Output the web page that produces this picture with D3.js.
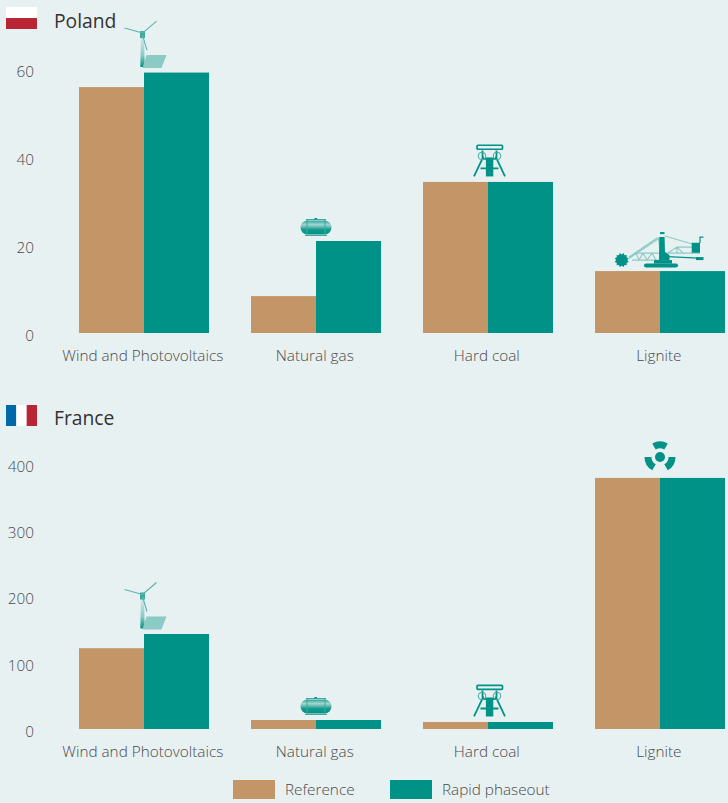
<!DOCTYPE html>
<html><head><meta charset="utf-8">
<script src="https://cdn.jsdelivr.net/npm/d3@7"></script>
<style>
html,body{margin:0;padding:0;background:#e8f1f2;overflow:hidden}
svg{display:block}
text{font-family:"Open Sans",sans-serif;}
.axis text{font-size:15.3px;fill:#4a4a4a;font-weight:300}
.title{font-size:19.3px;fill:#333}
.legend{font-size:15.3px;fill:#4a4a4a;font-weight:300}
</style></head><body>
<svg id="c" width="728" height="803"></svg>
<script>
const categories = ["Wind and Photovoltaics","Natural gas","Hard coal","Lignite"];
const seriesNames = ["Reference","Rapid phaseout"];
const polandReference = [56,8.4,34.4,14.1];
const polandRapid = [59.3,20.95,34.4,14.1];
const franceReference = [122,13.6,10.6,379];
const franceRapid = [143.4,13.6,10.6,379];
const polandTicks = [0,20,40,60];
const franceTicks = [0,100,200,300,400];
const polandIcons = ["turbine","tank","headframe","excavator"];
const franceIcons = ["turbine","tank","headframe","radiation"];

const TEAL="#009286", TAN="#c49566", LIGHT="#8ccac5";
const svg=d3.select("#c");
const defs=svg.append("defs");
const grad=(id,stops)=>{const g=defs.append("linearGradient").attr("id",id).attr("x1",0).attr("x2",0).attr("y1",0).attr("y2",1);
  stops.forEach(([o,c])=>g.append("stop").attr("offset",o).attr("stop-color",c));};
grad("tankG",[[0,"#2fa59b"],[.3,"#a5d6d1"],[.65,"#159a8e"],[1,"#009286"]]);
grad("towerG",[[0,"#d5e9e8"],[.6,"#8ccac5"],[1,"#009286"]]);

const x=d3.scaleBand().domain(categories).range([79,725]).paddingInner(42/172).paddingOuter(0);
const sub=d3.scaleBand().domain(seriesNames).range([0,x.bandwidth()]);
const color=d3.scaleOrdinal().domain(seriesNames).range([TAN,TEAL]);

const iconDraw={
 turbine(g){
  g.append("path").attr("d","M-2.6,-31 L0.6,-31 L1.2,-1 L-3.2,-1 Z").attr("fill","url(#towerG)");
  g.append("rect").attr("x",-3.5).attr("y",-37).attr("width",5).attr("height",7).attr("fill","#3fa9a0");
  g.append("path").attr("d","M-1,-35 L13,-47 M-1,-35 L-19,-40 M-1,-33 L3.5,-18").attr("stroke","#58b5ad").attr("stroke-width",1.1).attr("fill","none");
  g.append("path").attr("d","M3,-13 L23,-13 L18,0 L-1,0 Z").attr("fill",LIGHT);
 },
 tank(g){
  g.append("rect").attr("x",-15.5).attr("y",-15.5).attr("width",31).attr("height",14).attr("rx",7).attr("fill","url(#tankG)");
  g.append("path").attr("d","M-9,-17 V-0.5 M9,-17 V-0.5 M-11,-0.5 H11 M-10,-16.5 H10").attr("stroke","#3fa9a0").attr("stroke-width",1).attr("fill","none");
  g.append("rect").attr("x",-1.5).attr("y",-18).attr("width",2.5).attr("height",1.5).attr("fill",TEAL);
 },
 headframe(g){
  g.append("rect").attr("x",-12.5).attr("y",-31.2).attr("width",25.5).attr("height",4).attr("rx",1).attr("fill","none").attr("stroke",TEAL).attr("stroke-width",1.7);
  g.append("rect").attr("x",-3.6).attr("y",-19).attr("width",7.4).attr("height",19).attr("fill",TEAL);
  g.append("path").attr("d","M-6,-20 L-15.5,0 M6,-20 L15.5,0 M-9,-8 H9 M-7,-26 V-19 M7,-26 V-19 M-7,-17.5 H7").attr("stroke",TEAL).attr("stroke-width",1.8).attr("fill","none");
  [-7.5,7.5].forEach(d=>g.append("circle").attr("cx",d).attr("cy",-20.5).attr("r",3.8).attr("fill","none").attr("stroke","#3fa9a0").attr("stroke-width",1));
 },
 excavator(g){
  const star=d3.range(24).map(i=>{const r=i%2?7.2:5.6,a=i*Math.PI/12;return [-38.3+r*Math.cos(a),-11+r*Math.sin(a)];});
  g.append("path").attr("d",d3.line()(star)+"Z").attr("fill",TEAL);
  g.append("path").attr("d","M-32,-12 L-2,-32 M-31,-14 L-3,-33 M-28,-11 H0 M-24,-18 H0 M-24,-18 L-21,-11 L-17,-18 L-13,-11 L-8,-18 L-4,-11 M5,-35 L32,-27 M8,-18 L17,-24 H32 M17,-24 L23,-18 M17,-24 V-18 M2,-18 H40 M-2,-34 L1,-18").attr("stroke",LIGHT).attr("stroke-width",1.1).attr("fill","none");
  g.append("rect").attr("x",-16).attr("y",-7.7).attr("width",34).attr("height",4).attr("rx",2).attr("fill",TEAL);
  g.append("rect").attr("x",-6).attr("y",-11).attr("width",18).attr("height",3.5).attr("fill",TEAL);
  g.append("path").attr("d","M-0.7,-34 H4.6 L5,-19 L9.5,-16 V-11 H-1 Z").attr("fill",TEAL);
  g.append("rect").attr("x",0).attr("y",-39).attr("width",4.5).attr("height",2).attr("fill",TEAL);
  g.append("rect").attr("x",31.7).attr("y",-28.3).attr("width",8.3).attr("height",10).attr("fill",TEAL);
  g.append("path").attr("d","M40,-28 V-34 H43.5").attr("stroke",TEAL).attr("stroke-width",1.2).attr("fill","none");
  g.append("rect").attr("x",36).attr("y",-14).attr("width",7.5).attr("height",3).attr("fill",TEAL);
  g.append("path").attr("d","M8,-14.5 L38,-13").attr("stroke",TEAL).attr("stroke-width",1.3);
 },
 radiation(g){
  const arc=d3.arc().innerRadius(8.6).outerRadius(15.5);
  [0,120,240].forEach(a=>{const r=a*Math.PI/180;
    g.append("path").attr("transform","translate(0,-21)").attr("d",arc({startAngle:r-Math.PI/6,endAngle:r+Math.PI/6})).attr("fill",TEAL);});
  g.append("circle").attr("cy",-21).attr("r",5).attr("fill",TEAL);
 }
};
const iconOffset={turbine:[-0.5,-4.5],tank:[0,-5],headframe:[1.5,-5.5],excavator:[0,0],radiation:[0,0]};

function panel(titleBase,base,maxV,maxY,ticks,ref,rapid,icons,title,flag){
  const y=d3.scaleLinear().domain([0,maxV]).range([base,maxY]);
  const root=svg.append("g");
  const ya=d3.axisLeft(y).tickValues(ticks).tickSize(0).tickPadding(0);
  const ga=root.append("g").attr("class","axis").attr("transform","translate(34,2.5)").call(ya);
  ga.select(".domain").remove();
  const xa=d3.axisBottom(x).tickSize(0).tickPadding(0);
  const gx=root.append("g").attr("class","axis").attr("transform",`translate(-1.2,${base+17})`).call(xa);
  gx.select(".domain").remove();
  categories.forEach((c,i)=>{
    const g=root.append("g").attr("transform",`translate(${x(c)},0)`);
    [ref[i],rapid[i]].forEach((v,j)=>{
      g.append("rect").attr("x",sub(seriesNames[j])).attr("width",sub.bandwidth())
       .attr("y",y(v)).attr("height",base-y(v)).attr("fill",color(seriesNames[j]));
    });
    const k=icons[i],o=iconOffset[k];
    const ig=root.append("g").attr("transform",`translate(${x(c)+x.bandwidth()/2+o[0]},${y(rapid[i])+o[1]})`);
    iconDraw[k](ig);
  });
  root.append("text").attr("class","title").attr("x",54).attr("y",titleBase).text(title);
  flag(root);
}
panel(28,333,60,69.5,polandTicks,polandReference,polandRapid,polandIcons,"Poland",r=>{
  const fy=d3.scaleBand().domain([0,1]).range([7,29]);
  ["#ffffff","#b92534"].forEach((c,i)=>r.append("rect").attr("x",6).attr("width",31).attr("y",fy(i)).attr("height",fy.bandwidth()).attr("fill",c));
});
panel(425,729,400,464,franceTicks,franceReference,franceRapid,franceIcons,"France",r=>{
  const fx=d3.scaleBand().domain([0,1,2]).range([6,37]);
  ["#0068a8","#ffffff","#b92534"].forEach((c,i)=>r.append("rect").attr("x",fx(i)).attr("width",fx.bandwidth()).attr("y",405).attr("height",21).attr("fill",c));
});
const lx=d3.scaleOrdinal().domain(seriesNames).range([233,390]);
seriesNames.forEach(s=>{
  svg.append("rect").attr("x",lx(s)).attr("y",780).attr("width",42).attr("height",19).attr("fill",color(s));
  svg.append("text").attr("class","legend").attr("x",lx(s)+52).attr("y",795).text(s);
});
</script></body></html>
